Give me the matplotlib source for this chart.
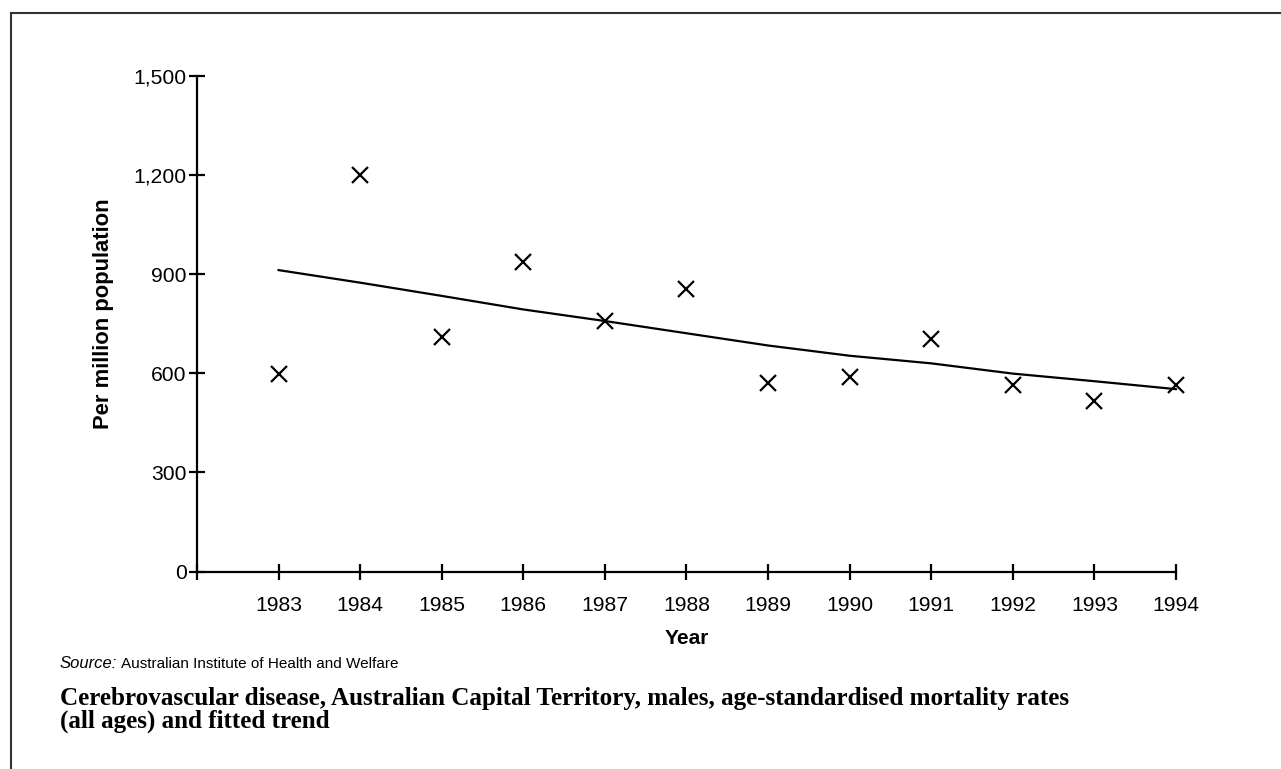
import numpy as np
import matplotlib
matplotlib.use('Agg')
import matplotlib.pyplot as plt
from matplotlib.lines import Line2D


YEARS = [1983, 1984, 1985, 1986, 1987, 1988, 1989, 1990, 1991, 1992, 1993, 1994]
RATES = [598, 1200, 709, 935, 758, 855, 572, 588, 703, 565, 515, 565]   # observed, per million
TREND = [912, 874, 834, 793, 758, 721, 684, 653, 630, 599, 576, 552]    # fitted trend
Y_TICKS = [0, 300, 600, 900, 1200, 1500]

SOURCE = "Australian Institute of Health and Welfare"
TITLE_1 = "Cerebrovascular disease, Australian Capital Territory, males, age-standardised mortality rates"
TITLE_2 = "(all ages) and fitted trend"


def plot_chart(out_file):
    plt.rcParams['font.family'] = ['Liberation Sans', 'DejaVu Sans']

    fig = plt.figure(figsize=(12.81, 7.69), dpi=100)
    ax = fig.add_axes([0.1538, 0.2566, 0.918 - 0.1538, 0.9016 - 0.2566])

    ax.plot(YEARS, TREND, color='black', linewidth=1.6, clip_on=False)
    ax.plot(YEARS, RATES, linestyle='none', marker='x', color='black',
            markersize=12, markeredgewidth=1.6, clip_on=False)

    ax.set_xlim(1982, 1994)
    ax.set_ylim(0, 1500)
    ax.set_xticks(range(1982, 1995))
    ax.set_xticklabels([''] + [str(y) for y in YEARS])
    ax.set_yticks(Y_TICKS)
    ax.set_yticklabels([f'{v:,}' for v in Y_TICKS])

    for side in ['top', 'right']:
        ax.spines[side].set_visible(False)
    for side in ['left', 'bottom']:
        ax.spines[side].set_linewidth(1.6)
    ax.tick_params(direction='inout', length=11, width=1.6, labelsize=15.2, pad=2)
    ax.tick_params(axis='x', pad=12)

    fig.text(687 / 1281, 1 - 638 / 769, 'Year', ha='center', va='center',
             fontsize=15, fontweight='bold')
    fig.text(104 / 1281, 1 - 314 / 769, 'Per million population', ha='center', va='center',
             rotation=90, fontsize=15.8, fontweight='bold')

    # source line: italic label then plain text
    src = fig.text(60 / 1281, 1 - 664 / 769, 'Source:', ha='left', va='center',
                   fontsize=12, fontstyle='italic')
    fig.canvas.draw()
    bb = src.get_window_extent()
    fig.text((bb.x1 + 4) / 1281, 1 - 664 / 769, SOURCE, ha='left', va='center', fontsize=11)

    fig.text(60 / 1281, 1 - 699 / 769, TITLE_1, ha='left', va='center',
             fontsize=18.1, fontweight='bold', family=['Liberation Serif'])
    fig.text(60 / 1281, 1 - 721 / 769, TITLE_2, ha='left', va='center',
             fontsize=18.1, fontweight='bold', family=['Liberation Serif'])

    # frame round the top and left of the picture
    fig.add_artist(Line2D([11 / 1281, 1.0], [1 - 13 / 769, 1 - 13 / 769],
                          transform=fig.transFigure, color='#333333', linewidth=1.5))
    fig.add_artist(Line2D([11 / 1281, 11 / 1281], [0.0, 1 - 13 / 769],
                          transform=fig.transFigure, color='#333333', linewidth=1.5))

    fig.savefig(out_file, dpi=100)


if __name__ == '__main__':
    plot_chart('out.png')
